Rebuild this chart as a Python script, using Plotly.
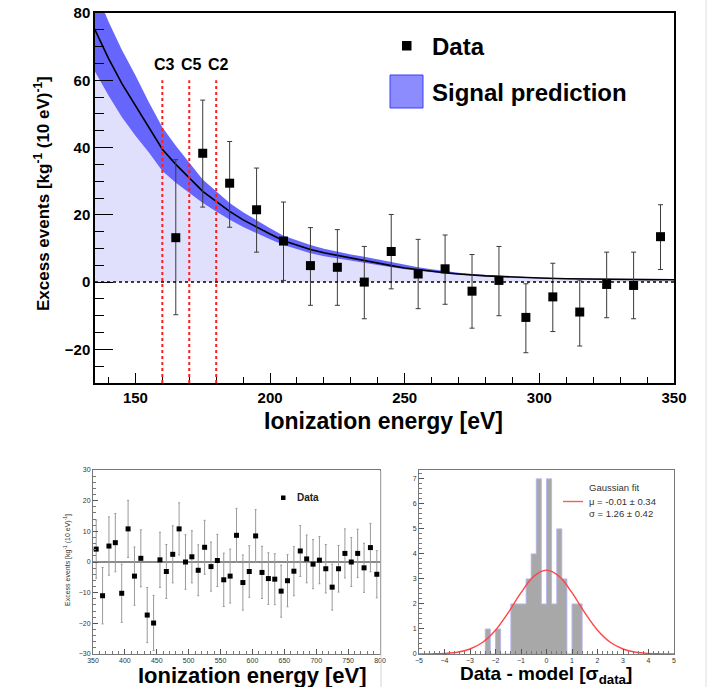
import plotly.graph_objects as go

# ---------------- data: main panel ----------------
E_grid = [135, 140, 145, 150, 155, 160, 165, 170, 175, 180, 185, 190, 195, 200, 205,
          210, 215, 220, 225, 230, 235, 240, 245, 250, 255, 260, 265, 270, 275, 280,
          285, 290, 295, 300, 310, 320, 330, 340, 350]
signal_curve = [75.0, 66.5, 59.0, 52.5, 46.0, 39.5, 35.0, 31.0, 27.0, 24.0, 21.0, 18.5, 16.3, 14.3, 12.3,
                11.0, 9.7, 8.7, 7.9, 7.1, 6.4, 5.6, 4.9, 4.2, 3.65, 3.2, 2.76, 2.4, 2.07, 1.85,
                1.7, 1.5, 1.35, 1.2, 1.0, 0.85, 0.78, 0.72, 0.7]
signal_upper = [87.0, 77.5, 69.0, 61.5, 53.5, 46.0, 40.5, 35.5, 30.5, 27.0, 23.5, 20.8, 18.3, 16.0, 13.8,
                12.4, 11.0, 9.9, 9.0, 8.2, 7.5, 6.7, 5.9, 5.1, 4.4, 3.8, 3.25, 2.8, 2.4, 2.1,
                1.9, 1.65, 1.48, 1.3, 1.07, 0.9, 0.82, 0.75, 0.72]
signal_lower = [62.5, 55.5, 49.0, 43.5, 38.5, 33.0, 29.5, 26.5, 23.5, 21.0, 18.5, 16.4, 14.5, 12.7, 11.0,
                9.7, 8.6, 7.7, 7.0, 6.3, 5.7, 5.0, 4.4, 3.8, 3.3, 2.9, 2.5, 2.2, 1.9, 1.7,
                1.55, 1.4, 1.26, 1.12, 0.94, 0.8, 0.74, 0.69, 0.68]

E_data = [165, 175, 185, 195, 205, 215, 225, 235, 245, 255, 265, 275, 285, 295, 305, 315, 325, 335, 345]
data_vals = [13.2, 38.3, 29.4, 21.5, 12.2, 4.9, 4.4, 0.0, 9.1, 2.4, 3.95, -2.7, 0.5, -10.5, -4.4, -8.9, -0.7, -1.0, 13.5]
data_hi = [36.4, 54.1, 41.8, 33.9, 23.8, 16.2, 15.6, 10.6, 20.1, 12.7, 14.0, 8.2, 10.6, -0.5, 5.6, 0.6, 8.9, 8.9, 23.0]
data_lo = [-9.7, 22.3, 16.3, 8.9, 0.5, -6.9, -6.9, -10.9, -2.0, -7.9, -6.6, -13.7, -10.0, -21.0, -14.7, -19.0, -10.6, -10.9, 3.75]

chip_lines = [160, 170, 180]
chip_labels = ["C3", "C5", "C2"]
chip_line_top = 60
chip_label_y = 64.8

# ---------------- data: bottom-left panel ----------------
E_hi = [355, 365, 375, 385, 395, 405, 415, 425, 435, 445, 455, 465, 475, 485, 495,
        505, 515, 525, 535, 545, 555, 565, 575, 585, 595, 605, 615, 625, 635, 645,
        655, 665, 675, 685, 695, 705, 715, 725, 735, 745, 755, 765, 775, 785, 795]
hi_vals = [4.2, -11.0, 5.2, 6.3, -10.2, 10.8, -4.6, 1.2, -17.3, -19.9, 0.7, -3.1, 2.5, 10.8, 0.0,
           1.7, -2.7, 4.8, -1.5, 0.5, -5.8, -4.6, 8.7, -6.7, -3.1, 8.5, -3.4, -5.4, -5.6, -9.5,
           -6.1, -3.0, 3.6, 1.0, -0.7, 0.6, -2.2, -8.2, -2.2, 2.8, 0.0, 2.8, -1.9, 4.7, -4.0]
hi_errs = [9.5, 9.2, 9.5, 9.5, 9.5, 9.3, 9.5, 9.3, 9.0, 9.0, 9.0, 8.8, 9.3, 8.5, 8.9,
           8.5, 8.3, 8.8, 8.0, 8.5, 8.7, 8.8, 8.8, 9.0, 8.4, 8.6, 8.5, 8.4, 8.3, 8.5,
           8.5, 8.0, 8.3, 7.8, 8.0, 7.7, 7.9, 7.5, 7.6, 8.0, 8.0, 7.9, 8.0, 7.9, 7.7]

# ---------------- data: bottom-right panel ----------------
bin_centers = [-2.3, -2.1, -1.9, -1.7, -1.5, -1.3, -1.1, -0.9, -0.7, -0.5,
               -0.3, -0.1, 0.1, 0.3, 0.5, 0.7, 0.9, 1.1, 1.3]
bin_counts = [1, 0, 1, 0, 0, 2, 2, 2, 3, 4, 7, 2, 7, 2, 5, 3, 0, 2, 2]
bin_width = 0.2
gauss_x = [-5, -4.5, -4, -3.5, -3, -2.5, -2, -1.5, -1, -0.5, 0, 0.5, 1, 1.5, 2, 2.5, 3, 3.5, 4, 4.5, 5]
gauss_y = [0.0, 0.006, 0.022, 0.07, 0.2, 0.47, 0.95, 1.65, 2.45, 3.1, 3.35, 3.1, 2.45, 1.65, 0.95,
           0.47, 0.2, 0.07, 0.022, 0.006, 0.0]

# ---------------- helpers ----------------
W, H = 709, 687
FONT = "Liberation Sans, Arial, Helvetica, sans-serif"


def px(x):
    return x / W


def py(y):
    return 1 - y / H


fig = go.Figure()

# main panel traces
fig.add_trace(go.Scatter(x=E_grid, y=signal_lower, mode="lines", line=dict(width=0),
                         fill="tozeroy", fillcolor="rgb(224,224,252)", xaxis="x", yaxis="y",
                         hoverinfo="skip", showlegend=False))
fig.add_trace(go.Scatter(x=E_grid, y=signal_upper, mode="lines", line=dict(width=0),
                         fill="tonexty", fillcolor="rgb(102,102,252)", xaxis="x", yaxis="y",
                         hoverinfo="skip", showlegend=False))
fig.add_trace(go.Scatter(x=E_grid, y=signal_curve, mode="lines", line=dict(color="black", width=1.6),
                         xaxis="x", yaxis="y", showlegend=False))
fig.add_trace(go.Scatter(
    x=E_data, y=data_vals, mode="markers",
    marker=dict(symbol="square", size=9, color="black"),
    error_y=dict(type="data", symmetric=False,
                 array=[h - v for h, v in zip(data_hi, data_vals)],
                 arrayminus=[v - l for v, l in zip(data_vals, data_lo)],
                 color="#3a3a3a", thickness=1, width=2.5),
    xaxis="x", yaxis="y", showlegend=False))

# bottom-left traces
fig.add_trace(go.Scatter(
    x=E_hi, y=hi_vals, mode="markers",
    marker=dict(symbol="square", size=5, color="black"),
    error_y=dict(type="data", array=hi_errs, color="#9a9a9a", thickness=1, width=1),
    xaxis="x2", yaxis="y2", showlegend=False))

# bottom-right traces
fig.add_trace(go.Bar(x=bin_centers, y=bin_counts, width=bin_width,
                     marker=dict(color="rgb(168,168,168)", line=dict(width=0)),
                     xaxis="x3", yaxis="y3", showlegend=False))
step_x = [bin_centers[0] - bin_width / 2] + [c - bin_width / 2 for c in bin_centers] + [bin_centers[-1] + bin_width / 2]
step_y = [0] + bin_counts + [0]
fig.add_trace(go.Scatter(x=step_x, y=step_y, mode="lines", line=dict(color="rgb(185,185,240)", width=1, shape="hv"),
                         xaxis="x3", yaxis="y3", showlegend=False))
fig.add_trace(go.Scatter(x=gauss_x, y=gauss_y, mode="lines",
                         line=dict(color="rgb(255,70,70)", width=1.4, shape="spline"),
                         xaxis="x3", yaxis="y3", showlegend=False))

# ---------------- axes ----------------
main_tickfont = dict(family=FONT, size=15, color="black", weight="bold")
small_tickfont = dict(family=FONT, size=7, color="#333")

fig.update_layout(
    width=W, height=H, margin=dict(l=0, r=0, t=0, b=0, pad=0), autosize=False,
    paper_bgcolor="white", plot_bgcolor="white", showlegend=False, bargap=0,
    xaxis=dict(domain=[px(95), px(674)], range=[135, 350], tick0=150, dtick=50,
               ticks="inside", ticklen=10, tickwidth=1, tickcolor="black",
               minor=dict(dtick=10, ticks="inside", ticklen=6, tickcolor="black"),
               showline=True, linecolor="black", linewidth=1.5, mirror=True, automargin=False,
               showgrid=False, zeroline=False, tickfont=main_tickfont, anchor="y"),
    yaxis=dict(domain=[py(383), py(13)], range=[-30, 80], tick0=0, dtick=20,
               ticks="inside", ticklen=18, tickwidth=1, tickcolor="black",
               minor=dict(dtick=5, ticks="inside", ticklen=9, tickcolor="black"),
               showline=True, linecolor="black", linewidth=1.5, mirror=True, automargin=False,
               showgrid=False, zeroline=False, tickfont=main_tickfont, anchor="x"),
    xaxis2=dict(domain=[px(93), px(380)], range=[350, 800], tick0=350, dtick=50,
                ticks="inside", ticklen=5, tickcolor="#555",
                minor=dict(dtick=10, ticks="inside", ticklen=3, tickcolor="#777"),
                showline=True, linecolor="#777", linewidth=1, mirror=True, automargin=False,
                showgrid=False, zeroline=False, tickfont=small_tickfont, anchor="y2"),
    yaxis2=dict(domain=[py(654), py(470)], range=[-30, 30], tick0=0, dtick=10,
                ticks="inside", ticklen=5, tickcolor="#555",
                minor=dict(dtick=2, ticks="inside", ticklen=3, tickcolor="#777"),
                showline=True, linecolor="#777", linewidth=1, mirror=True, automargin=False,
                showgrid=False, zeroline=False, tickfont=small_tickfont, anchor="x2"),
    xaxis3=dict(domain=[px(419), px(674)], range=[-5, 5], tick0=0, dtick=1,
                ticks="inside", ticklen=5, tickcolor="#555",
                minor=dict(dtick=0.2, ticks="inside", ticklen=3, tickcolor="#777"),
                showline=True, linecolor="#777", linewidth=1, mirror=True, automargin=False,
                showgrid=False, zeroline=False, tickfont=small_tickfont, anchor="y3"),
    yaxis3=dict(domain=[py(654), py(470)], range=[0, 7.35], tick0=0, dtick=1,
                ticks="inside", ticklen=5, tickcolor="#555",
                minor=dict(dtick=0.2, ticks="inside", ticklen=3, tickcolor="#777"),
                showline=True, linecolor="#777", linewidth=1, mirror=True, automargin=False,
                showgrid=False, zeroline=False, tickfont=small_tickfont, anchor="x3"),
)

# ---------------- shapes ----------------
shapes = []
shapes.append(dict(type="line", xref="x domain", yref="y", x0=0, x1=1, y0=0, y1=0,
                   line=dict(color="black", width=1.5, dash="dot"), layer="above"))
for xc in chip_lines:
    shapes.append(dict(type="line", xref="x", yref="y", x0=xc, x1=xc, y0=-30, y1=chip_line_top,
                       line=dict(color="rgb(255,30,30)", width=2, dash="dot"), layer="above"))
shapes.append(dict(type="line", xref="x2 domain", yref="y2", x0=0, x1=1, y0=0, y1=0,
                   line=dict(color="#8a8a8a", width=2), layer="below"))
shapes.append(dict(type="rect", xref="paper", yref="paper", x0=px(402), x1=px(411.5), y0=py(50.5), y1=py(41),
                   fillcolor="black", line=dict(width=0)))
shapes.append(dict(type="rect", xref="paper", yref="paper", x0=px(390), x1=px(423), y0=py(108), y1=py(75),
                   fillcolor="rgb(140,140,255)", line=dict(color="rgb(60,60,255)", width=1)))
shapes.append(dict(type="rect", xref="paper", yref="paper", x0=px(281), x1=px(285.5), y0=py(500), y1=py(495.5),
                   fillcolor="black", line=dict(width=0)))
shapes.append(dict(type="line", xref="paper", yref="paper", x0=px(563), x1=px(583), y0=py(501.5), y1=py(501.5),
                   line=dict(color="rgb(255,90,90)", width=1.4)))
shapes.append(dict(type="line", xref="paper", yref="paper", x0=px(706), x1=px(706), y0=0, y1=1,
                   line=dict(color="#dedede", width=1)))
shapes.append(dict(type="line", xref="paper", yref="paper", x0=px(381), x1=px(381), y0=0, y1=py(471),
                   line=dict(color="#d4d4d4", width=1)))
fig.update_layout(shapes=shapes)

# ---------------- annotations ----------------
ann = []
for xc, lab in zip(chip_lines, chip_labels):
    ann.append(dict(x=xc + 0.8, y=chip_label_y, xref="x", yref="y", text="<b>%s</b>" % lab, showarrow=False,
                    font=dict(family=FONT, size=16, color="black"), xanchor="center", yanchor="middle"))
ann.append(dict(x=px(430), y=py(46.5), xref="paper", yref="paper", text="<b>Data</b>", showarrow=False,
                font=dict(family=FONT, size=24, color="black"), xanchor="left", yanchor="middle"))
ann.append(dict(x=px(430), y=py(93), xref="paper", yref="paper", text="<b>Signal prediction</b>", showarrow=False,
                font=dict(family=FONT, size=24, color="black"), xanchor="left", yanchor="middle"))
ann.append(dict(x=px(383), y=py(421), xref="paper", yref="paper", text="<b>Ionization energy [eV]</b>",
                showarrow=False, font=dict(family=FONT, size=23, color="black"), xanchor="center", yanchor="middle"))
ann.append(dict(x=px(42), y=py(194), xref="paper", yref="paper",
                text="<b>Excess events [kg<sup>-1</sup> (10 eV)<sup>-1</sup>]</b>", textangle=-90,
                showarrow=False, font=dict(family=FONT, size=17, color="black"), xanchor="center", yanchor="middle"))
ann.append(dict(x=px(295), y=py(497.7), xref="paper", yref="paper", text="<b>Data</b>", showarrow=False,
                font=dict(family=FONT, size=10, color="#222"), xanchor="left", yanchor="middle"))
ann.append(dict(x=px(252), y=py(675), xref="paper", yref="paper", text="<b>Ionization energy [eV]</b>",
                showarrow=False, font=dict(family=FONT, size=22, color="black"), xanchor="center", yanchor="middle"))
ann.append(dict(x=px(67), y=py(560), xref="paper", yref="paper",
                text="Excess events [kg<sup>-1</sup> (10 eV)<sup>-1</sup>]", textangle=-90,
                showarrow=False, font=dict(family=FONT, size=7, color="#333"), xanchor="center", yanchor="middle"))
ann.append(dict(x=px(587), y=py(487), xref="paper", yref="paper", text="Gaussian fit", showarrow=False,
                font=dict(family=FONT, size=9.5, color="#333"), xanchor="left", yanchor="middle"))
ann.append(dict(x=px(587), y=py(501), xref="paper", yref="paper", text="\u03bc = -0.01 \u00b1 0.34", showarrow=False,
                font=dict(family=FONT, size=9.5, color="#333"), xanchor="left", yanchor="middle"))
ann.append(dict(x=px(587), y=py(513), xref="paper", yref="paper", text="\u03c3 = 1.26 \u00b1 0.42", showarrow=False,
                font=dict(family=FONT, size=9.5, color="#333"), xanchor="left", yanchor="middle"))
ann.append(dict(x=px(546), y=py(675), xref="paper", yref="paper",
                text="<b>Data - model [\u03c3<sub>data</sub>]</b>",
                showarrow=False, font=dict(family=FONT, size=19, color="black"), xanchor="center", yanchor="middle"))
fig.update_layout(annotations=ann)

fig.write_html("out.html", config={"responsive": False, "displayModeBar": False},
               post_script="document.body.style.margin='0';document.body.style.overflow='hidden';")
